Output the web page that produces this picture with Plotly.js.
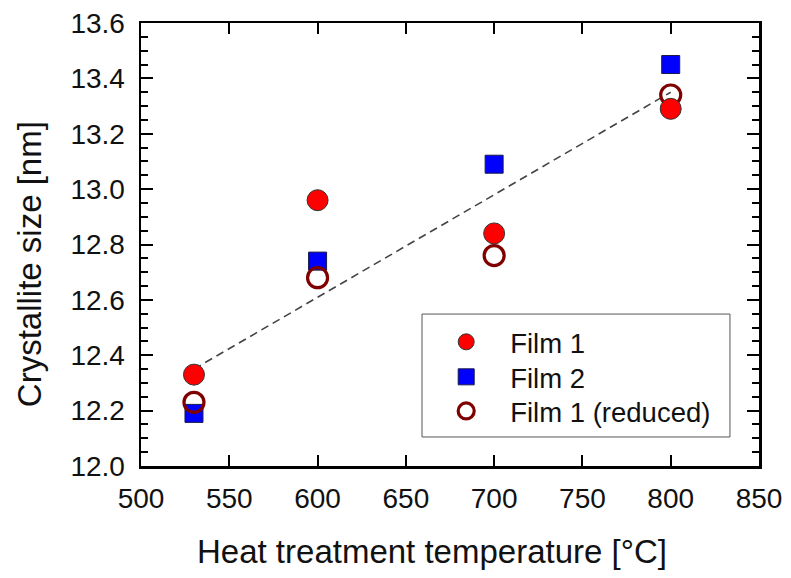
<!DOCTYPE html>
<html>
<head>
<meta charset="utf-8">
<script src="https://cdn.plot.ly/plotly-3.0.1.min.js"></script>
<style>html,body{margin:0;padding:0;background:#fff;}#chart{width:791px;height:578px;}</style>
</head>
<body>
<div id="chart"></div>
<script>
const temperatures = [530, 600, 700, 800];
const film1 = [12.33, 12.96, 12.84, 13.29];
const film2 = [12.19, 12.74, 13.09, 13.45];
const film1Reduced = [12.23, 12.68, 12.76, 13.34];
const fitX = [530, 800];
const fitY = [12.35, 13.35];
const seriesNames = ['Film 1', 'Film 2', 'Film 1 (reduced)'];
const xTitle = 'Heat treatment temperature [°C]';
const yTitle = 'Crystallite size [nm]';

const FONT = 'Liberation Sans, Arial, sans-serif';

const traces = [
  {x: fitX, y: fitY, mode: 'lines', showlegend: false, hoverinfo: 'skip',
   line: {color: '#444444', width: 1.6, dash: '8px,5px'}},
  {x: temperatures, y: film2, mode: 'markers', name: seriesNames[1], legend: 'legend2',
   marker: {symbol: 'square', size: 18, color: '#0000ff', line: {color: '#1a1a4a', width: 1}}},
  {x: temperatures, y: film1Reduced, mode: 'markers', name: seriesNames[2], legend: 'legend3',
   marker: {symbol: 'circle-open', size: 20, color: '#800000', line: {color: '#800000', width: 3.2}}},
  {x: temperatures, y: film1, mode: 'markers', name: seriesNames[0], legend: 'legend',
   marker: {symbol: 'circle', size: 21, color: '#ff0000', line: {color: '#333333', width: 1}}}
];

const axisCommon = {
  showline: true, linecolor: '#000', linewidth: 2.5, mirror: 'ticks',
  ticks: 'inside', tickcolor: '#000', tickwidth: 2,
  showgrid: false, zeroline: false,
  tickfont: {family: FONT, size: 28, color: '#111'}
};

function legendAt(y) {
  return {
    x: 0.455, y: y, xanchor: 'left', yanchor: 'middle',
    bgcolor: 'rgba(0,0,0,0)', borderwidth: 0,
    font: {family: FONT, size: 27.5, color: '#111'},
    itemwidth: 78
  };
}

const layout = {
  width: 791, height: 578,
  margin: {l: 141, r: 32, t: 23, b: 112},
  paper_bgcolor: '#fff', plot_bgcolor: '#fff',
  font: {family: FONT, color: '#111'},
  xaxis: Object.assign({}, axisCommon, {
    range: [500, 850], tick0: 500, dtick: 50, ticklen: 11,
    ticklabelstandoff: 6
  }),
  yaxis: Object.assign({}, axisCommon, {
    range: [12.0, 13.6], tick0: 12.0, dtick: 0.2, ticklen: 12,
    tickformat: '.1f', ticklabelstandoff: 8,
    minor: {dtick: 0.05, ticks: 'inside', ticklen: 7, tickwidth: 2, tickcolor: '#000'}
  }),
  annotations: [
    {text: xTitle, xref: 'paper', yref: 'paper', x: 0.471, y: -0.192,
     xanchor: 'center', yanchor: 'middle', showarrow: false,
     font: {family: FONT, size: 33, color: '#111'}},
    {text: yTitle, xref: 'paper', yref: 'paper', x: -0.18, y: 0.455,
     xanchor: 'center', yanchor: 'middle', showarrow: false, textangle: -90,
     font: {family: FONT, size: 33, color: '#111'}}
  ],
  shapes: [
    {type: 'rect', xref: 'paper', yref: 'paper', x0: 0.4547, x1: 0.953, y0: 0.0655, y1: 0.343,
     line: {color: '#555', width: 1}, fillcolor: '#fff', layer: 'above'}
  ],
  legend: legendAt(0.280),
  legend2: legendAt(0.201),
  legend3: legendAt(0.124),
  showlegend: true
};

Plotly.newPlot('chart', traces, layout, {displayModeBar: false, staticPlot: true});
</script>
</body>
</html>
